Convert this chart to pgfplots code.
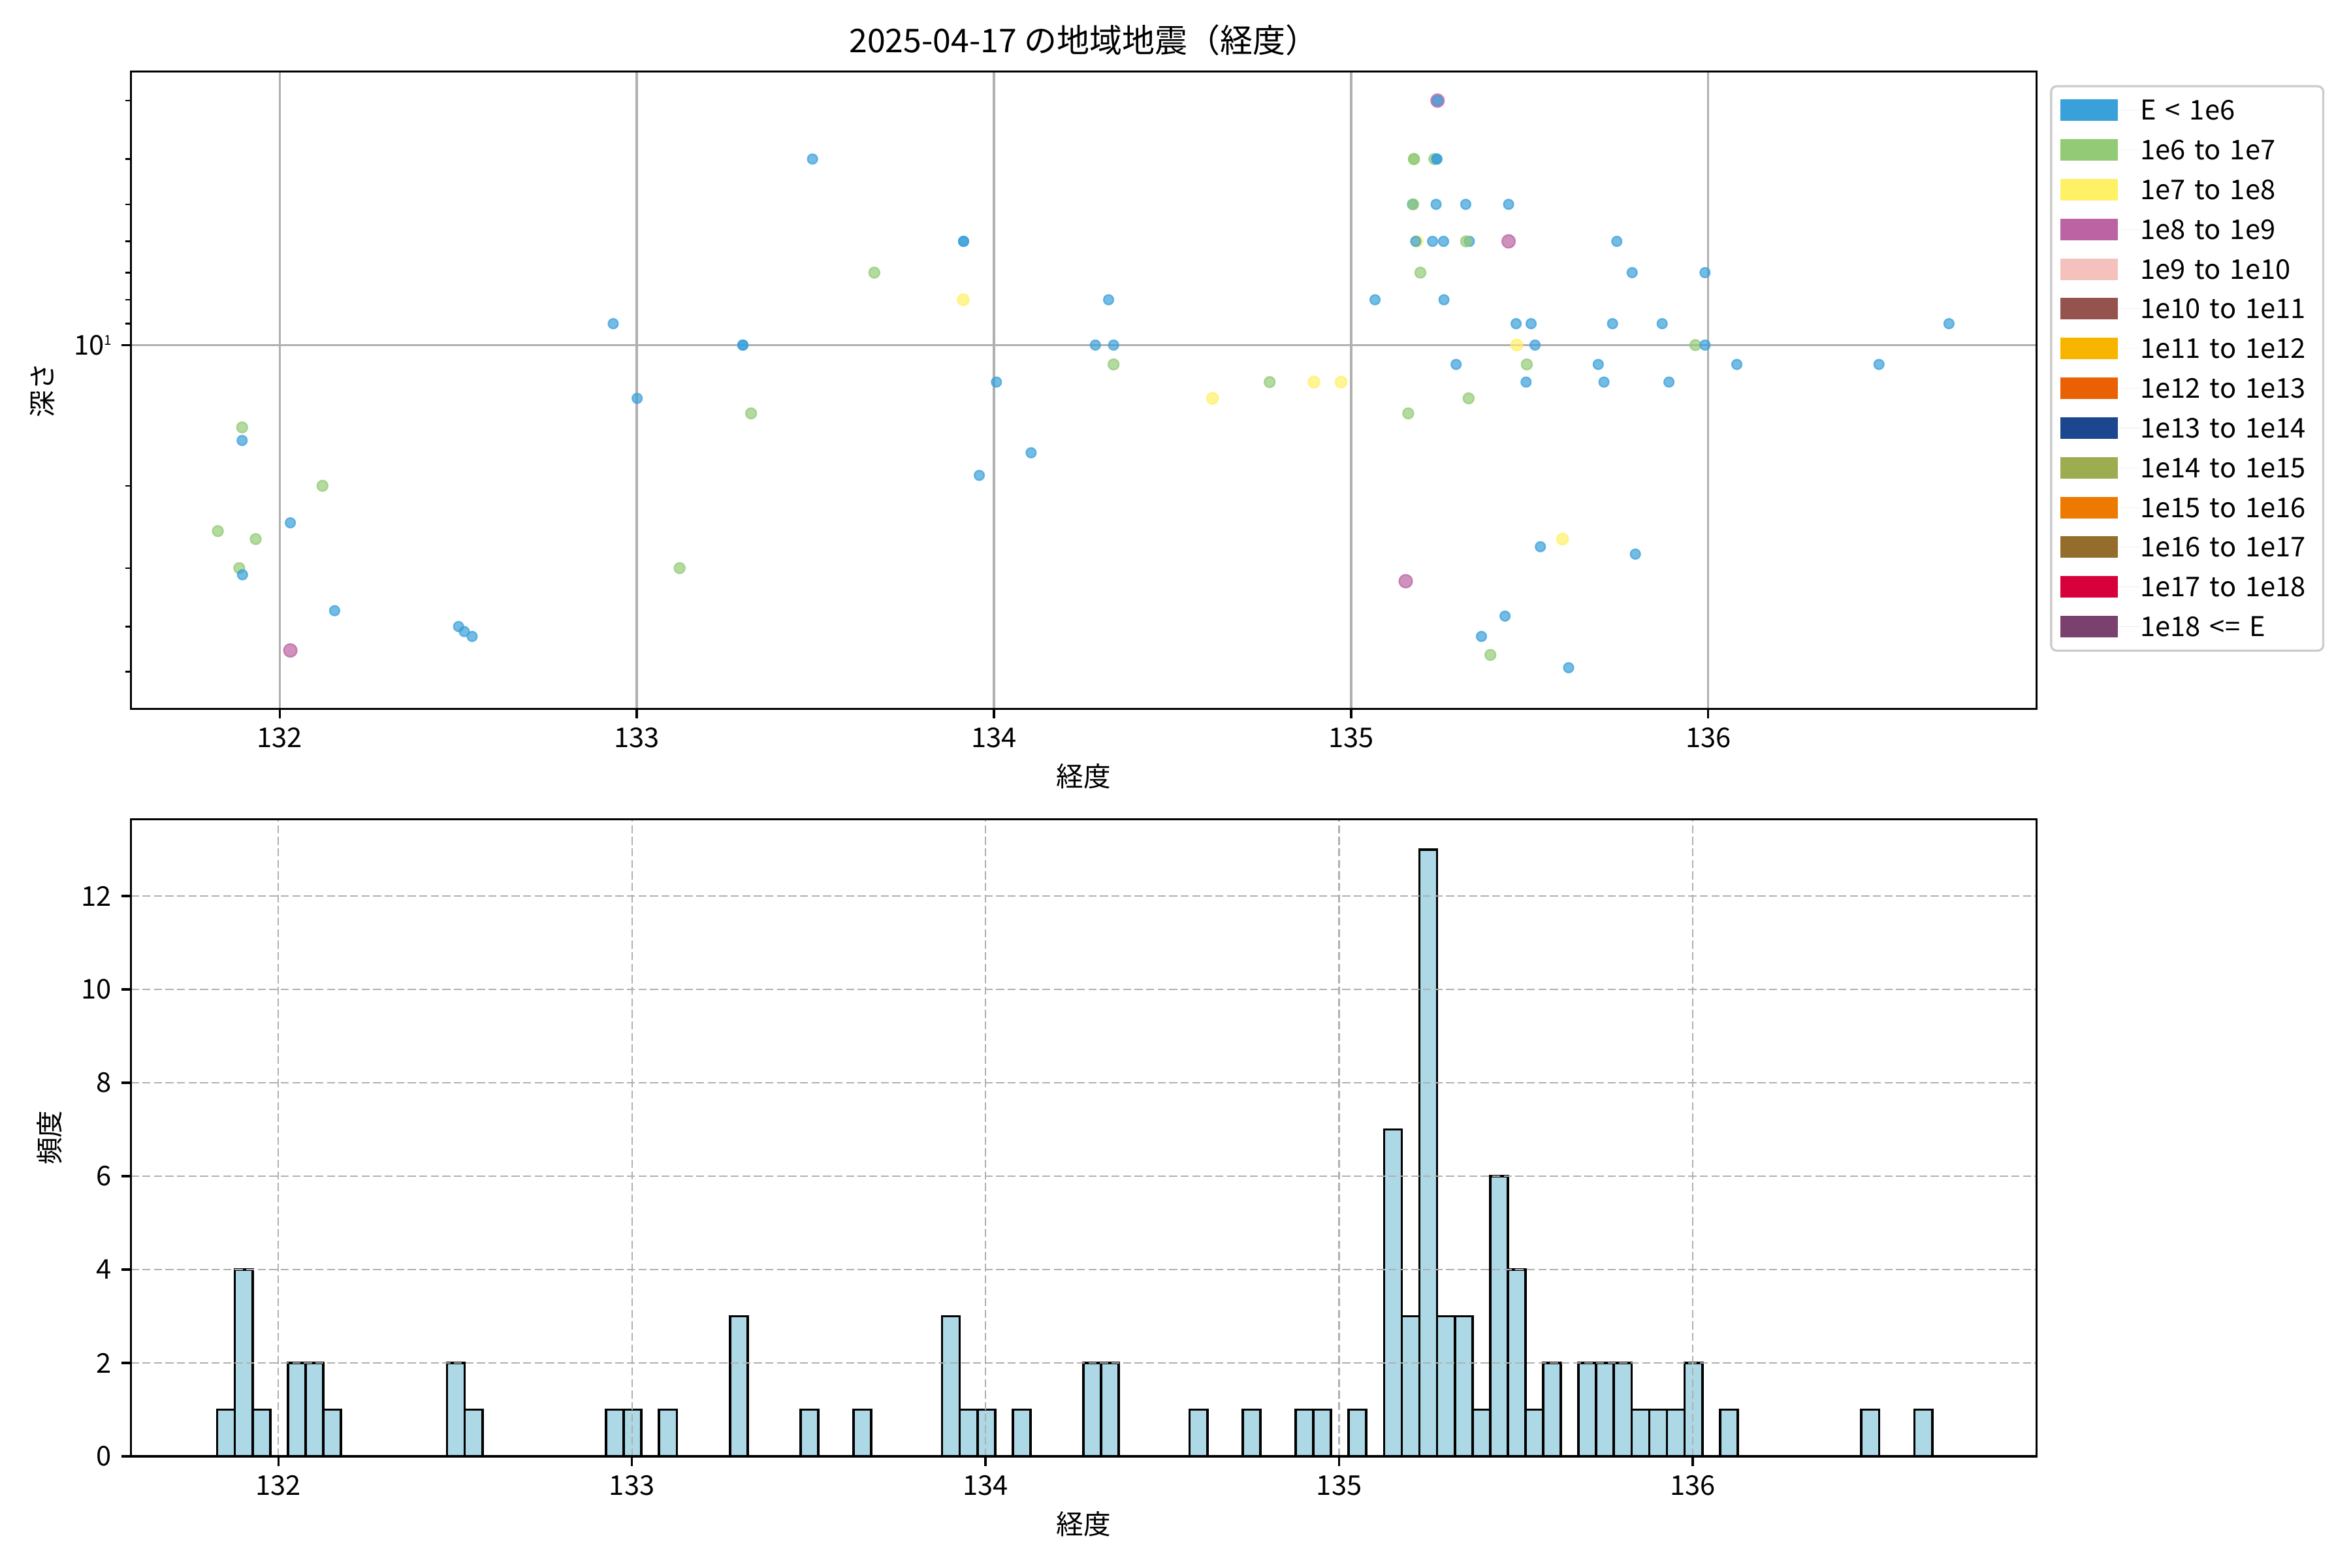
\documentclass[border=0pt]{standalone}
\usepackage{fontspec}
\setmainfont{Noto Sans CJK JP}
\usepackage{pgfplots}
\usepackage{pgfplotstable}
\pgfplotsset{compat=1.18}

\definecolor{cA}{RGB}{58,160,218}
\definecolor{cB}{RGB}{147,202,118}
\definecolor{cC}{RGB}{255,241,102}
\definecolor{cD}{RGB}{187,99,163}
\definecolor{cE}{RGB}{245,193,188}
\definecolor{cF}{RGB}{149,83,77}
\definecolor{cG}{RGB}{248,181,0}
\definecolor{cH}{RGB}{234,97,5}
\definecolor{cI}{RGB}{28,70,142}
\definecolor{cJ}{RGB}{156,172,80}
\definecolor{cK}{RGB}{237,121,0}
\definecolor{cL}{RGB}{148,108,44}
\definecolor{cM}{RGB}{215,0,58}
\definecolor{cN}{RGB}{122,64,110}
\definecolor{gridgray}{RGB}{176,176,176}
\definecolor{hgrid}{RGB}{176,176,176}
\definecolor{barblue}{RGB}{173,216,230}
\definecolor{legframe}{RGB}{204,204,204}

\pgfplotstableread{
lon depth cls
133.492 4 A
132.934 9 A
133.297 10 A
133.297 10 A
133.001 13 A
133.320 14 B
131.895 15 B
131.895 16 A
132.120 20 B
131.827 25 B
131.933 26 B
132.030 24 A
131.887 30 B
131.896 31 A
133.120 30 B
132.154 37 A
132.501 40 A
132.517 41 A
132.539 42 A
132.030 45 D
133.665 7 B
133.915 6 A
133.915 6 A
133.914 8 C
134.321 8 A
134.284 10 A
134.335 10 A
134.335 11 B
134.007 12 A
134.612 13 C
134.772 12 B
134.896 12 C
134.972 12 C
134.104 17 A
133.959 19 A
135.242 3 D
135.242 3 A
135.176 4 B
135.176 4 B
135.233 4 B
135.240 4 A
135.240 4 A
135.172 5 A
135.174 5 B
135.238 5 A
135.321 5 A
135.441 5 A
135.185 6 C
135.181 6 A
135.228 6 A
135.259 6 A
135.331 6 A
135.322 6 B
135.441 6 D
135.744 6 A
135.194 7 B
135.787 7 A
135.991 7 A
135.067 8 A
135.260 8 A
135.462 9 A
135.504 9 A
135.732 9 A
135.871 9 A
136.674 9 A
135.464 10 C
135.515 10 A
135.964 10 B
135.991 10 A
135.294 11 A
135.492 11 B
135.692 11 A
136.080 11 A
136.478 11 A
135.490 12 A
135.708 12 A
135.890 12 A
135.329 13 B
135.160 14 B
135.592 26 C
135.530 27 A
135.796 28 A
135.153 32 D
135.431 38 A
135.365 42 A
135.390 46 B
135.609 49 A
}\quakes

\pgfplotstableread{
edge count
131.827 1
131.877 4
131.927 1
131.977 0
132.027 2
132.077 2
132.127 1
132.177 0
132.227 0
132.277 0
132.327 0
132.377 0
132.427 0
132.477 2
132.527 1
132.577 0
132.627 0
132.677 0
132.727 0
132.777 0
132.827 0
132.877 0
132.927 1
132.977 1
133.027 0
133.077 1
133.127 0
133.177 0
133.227 0
133.277 3
133.327 0
133.377 0
133.427 0
133.477 1
133.527 0
133.577 0
133.627 1
133.677 0
133.727 0
133.777 0
133.827 0
133.877 3
133.927 1
133.977 1
134.027 0
134.077 1
134.127 0
134.177 0
134.227 0
134.277 2
134.327 2
134.377 0
134.427 0
134.477 0
134.527 0
134.577 1
134.627 0
134.677 0
134.727 1
134.777 0
134.827 0
134.877 1
134.927 1
134.977 0
135.027 1
135.077 0
135.127 7
135.177 3
135.227 13
135.277 3
135.327 3
135.377 1
135.427 6
135.477 4
135.527 1
135.577 2
135.627 0
135.677 2
135.727 2
135.777 2
135.827 1
135.877 1
135.927 1
135.977 2
136.027 0
136.077 1
136.127 0
136.177 0
136.227 0
136.277 0
136.327 0
136.377 0
136.427 0
136.477 1
136.527 0
136.577 0
136.627 1
136.677 0
136.727 0
}\histdata

\pgfplotsset{
  patch legend/.style={legend image code/.code={\fill[##1, sharp corners, fill opacity=1] (0pt,-3.95pt) rectangle (20.9pt,3.95pt); \path (0pt,0pt) -- (29.3pt,0pt);}},
  baseaxis/.style={
    scale only axis, width=700.3pt, height=234.2pt,
    axis line style={line width=0.8pt},
    tick align=outside,
    major tick length=3.5pt, minor tick length=2pt,
    every tick/.style={black, line width=0.8pt},
    every minor tick/.style={black, line width=0.6pt},
    tick label style={font=\fontsize{10}{12}\selectfont},
    label style={font=\fontsize{10}{12}\selectfont},
    /pgf/number format/assume math mode=true,
    /pgf/number format/1000 sep={},
    xtick={132,133,134,135,136},
    xticklabels={132,133,134,135,136},
  },
}

\begin{document}
\begin{tikzpicture}
\path (0pt,0pt) rectangle (864pt,576pt);
% ---------- top: scatter ----------
\begin{axis}[baseaxis,
  at={(48.1pt,315.5pt)}, anchor=south west,
  xmin=131.5835, xmax=136.919,
  ymode=log, y dir=reverse, ymin=2.60, ymax=60,
  ytick={10}, yticklabels={10\raisebox{3.6pt}{\fontsize{5}{6}\selectfont 1}},
  minor ytick={3,4,5,6,7,8,9,20,30,40,50},
  xtick pos=bottom, ytick pos=left,
  grid=major, major grid style={gridgray, line width=0.8pt},
  axis on top,
  title={2025-04-17 の地域地震（経度）},
  title style={font=\fontsize{12}{14}\selectfont, at={(axis description cs:0.5,1)}, anchor=base, yshift=1pt},
  xlabel={経度}, ylabel={深さ},
  xlabel style={at={(axis description cs:0.5,-0.1059)}, anchor=center},
  ylabel style={at={(axis description cs:-0.0463,0.5)}, anchor=center, rotate=0},
  legend style={at={(1.00714,0.97865)}, anchor=north west,
    draw=legframe, line width=0.8pt, rounded corners=2pt,
    fill=white, fill opacity=0.8, text opacity=1, draw opacity=1,
    font=\fontsize{10}{12}\selectfont,
    inner xsep=3.5pt, inner ysep=1.5pt, row sep=0pt, column sep=0pt,
    nodes={inner xsep=0pt, inner ysep=2.3pt, text height=8.6pt, text depth=1.4pt, text width=63.7pt, align=left}},
  legend cell align=left,
  scatter/classes={
    A={mark=*, mark size=1.8pt, draw=cA, fill=cA, line width=0.55pt, fill opacity=0.7, draw opacity=0.7},
    B={mark=*, mark size=1.95pt, draw=cB, fill=cB, line width=0.55pt, fill opacity=0.7, draw opacity=0.7},
    C={mark=*, mark size=2.1pt, draw=cC, fill=cC, line width=0.55pt, fill opacity=0.7, draw opacity=0.7},
    D={mark=*, mark size=2.4pt, draw=cD, fill=cD, line width=0.55pt, fill opacity=0.7, draw opacity=0.7}},
]
\addlegendimage{patch legend, fill=cA, draw=none}\addlegendentry{E < 1e6}
\addlegendimage{patch legend, fill=cB, draw=none}\addlegendentry{1e6 to 1e7}
\addlegendimage{patch legend, fill=cC, draw=none}\addlegendentry{1e7 to 1e8}
\addlegendimage{patch legend, fill=cD, draw=none}\addlegendentry{1e8 to 1e9}
\addlegendimage{patch legend, fill=cE, draw=none}\addlegendentry{1e9 to 1e10}
\addlegendimage{patch legend, fill=cF, draw=none}\addlegendentry{1e10 to 1e11}
\addlegendimage{patch legend, fill=cG, draw=none}\addlegendentry{1e11 to 1e12}
\addlegendimage{patch legend, fill=cH, draw=none}\addlegendentry{1e12 to 1e13}
\addlegendimage{patch legend, fill=cI, draw=none}\addlegendentry{1e13 to 1e14}
\addlegendimage{patch legend, fill=cJ, draw=none}\addlegendentry{1e14 to 1e15}
\addlegendimage{patch legend, fill=cK, draw=none}\addlegendentry{1e15 to 1e16}
\addlegendimage{patch legend, fill=cL, draw=none}\addlegendentry{1e16 to 1e17}
\addlegendimage{patch legend, fill=cM, draw=none}\addlegendentry{1e17 to 1e18}
\addlegendimage{patch legend, fill=cN, draw=none}\addlegendentry{1e18 <= E}
\addplot[scatter, only marks, scatter src=explicit symbolic, forget plot]
  table[x=lon, y=depth, meta=cls] {\quakes};
\end{axis}
% ---------- bottom: histogram ----------
\begin{axis}[baseaxis,
  at={(48.1pt,40.8pt)}, anchor=south west,
  xmin=131.583, xmax=136.972,
  ymin=0, ymax=13.65,
  ytick={0,2,4,6,8,10,12},
  xtick pos=bottom, ytick pos=left,
  grid=major, major grid style={hgrid, line width=0.55pt, dash pattern=on 2.96pt off 1.28pt},
  axis on top,
  xlabel={経度}, ylabel={頻度},
  xlabel style={at={(axis description cs:0.5,-0.1063)}, anchor=center},
  ylabel style={at={(axis description cs:-0.0428,0.5)}, anchor=center},
]
\addplot[ybar interval, fill=barblue, draw=black, line width=0.9pt]
  table[x=edge, y=count] {\histdata};
\end{axis}
\end{tikzpicture}
\end{document}
